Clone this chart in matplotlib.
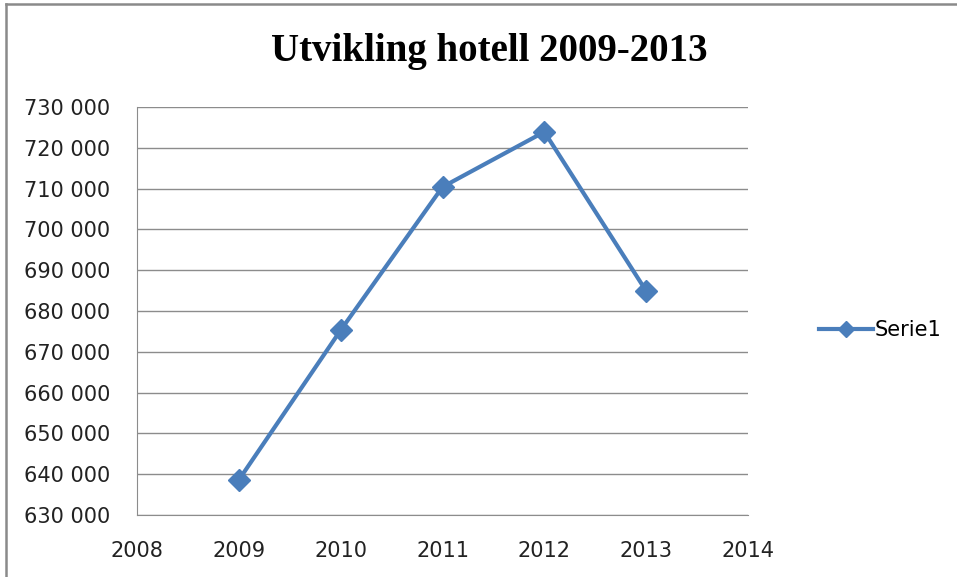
import matplotlib.pyplot as plt
from matplotlib.lines import Line2D
from matplotlib.ticker import FuncFormatter, MultipleLocator

years = [2009, 2010, 2011, 2012, 2013]
values = [638600, 675300, 710400, 723900, 684900]
series_name = "Serie1"
title = "Utvikling hotell 2009-2013"

fig = plt.figure(figsize=(9.57, 5.77), dpi=100)
ax = fig.add_axes([137 / 957, 1 - 515 / 577, 611 / 957, 408 / 577])

ax.plot(years, values, color="#4a7ebb", lw=3, marker="D", ms=11,
        label=series_name)

ax.set_xlim(2008, 2014)
ax.set_ylim(630000, 730000)
ax.xaxis.set_major_locator(MultipleLocator(1))
ax.yaxis.set_major_locator(MultipleLocator(10000))
ax.yaxis.set_major_formatter(FuncFormatter(lambda v, p: f"{int(v):,}".replace(",", " ")))
ax.grid(axis="y", color="#8c8c8c", lw=1)
ax.set_axisbelow(True)
for s in ["top", "right"]:
    ax.spines[s].set_visible(False)
for s in ["left", "bottom"]:
    ax.spines[s].set_color("#8c8c8c")
ax.tick_params(length=0, labelsize=15, colors="#222222")
ax.tick_params(axis="x", pad=19)
ax.tick_params(axis="y", pad=19)
for lab in ax.get_xticklabels() + ax.get_yticklabels():
    lab.set_family("DejaVu Sans")

fig.text(489 / 957, 1 - 51 / 577, title, ha="center", va="center",
         fontsize=28, fontweight="bold", family="Liberation Serif")

fig.legend(loc="center left", bbox_to_anchor=(800 / 957, 1 - 330 / 577),
           frameon=False, prop={"family": "DejaVu Sans", "size": 15},
           handlelength=2.6, handletextpad=0.1, markerscale=0.75)

fig.add_artist(Line2D([6 / 957, 6 / 957], [0, 1 - 4 / 577], color="#8a8a8a", lw=1.8))
fig.add_artist(Line2D([6 / 957, 1], [1 - 4 / 577, 1 - 4 / 577], color="#8a8a8a", lw=1.8))

fig.savefig("out.png", dpi=100)
